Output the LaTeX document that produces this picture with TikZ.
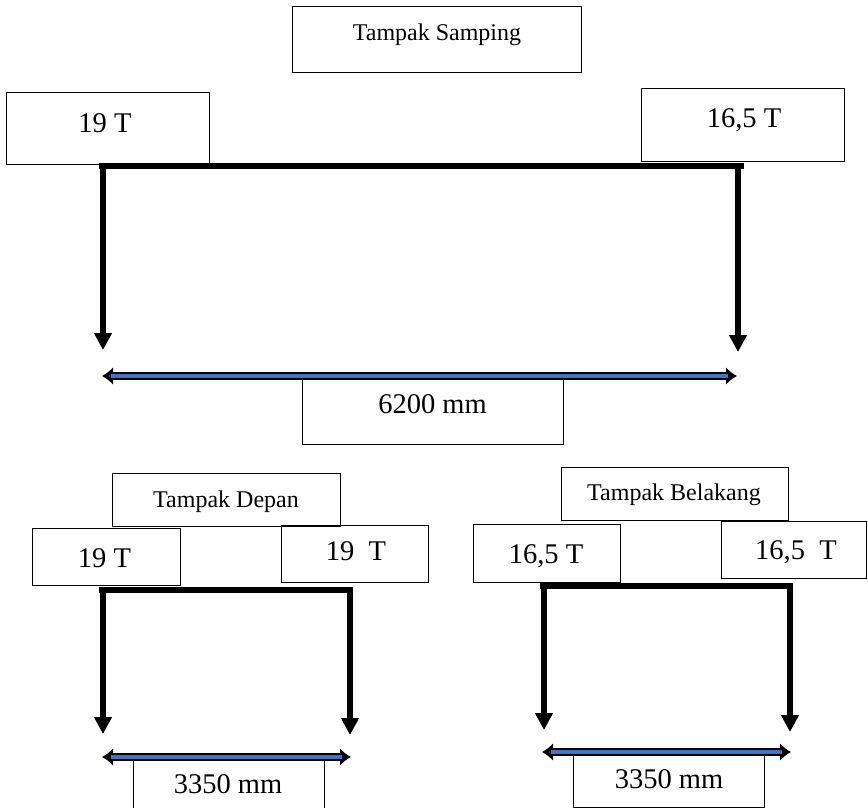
\documentclass[tikz,border=0pt]{standalone}
\usepackage{fontspec}
\setmainfont{Liberation Serif}
\usetikzlibrary{arrows.meta}
\definecolor{dimblue}{HTML}{4472C4}
\newcommand\bigsz{\fontsize{28.5}{30}\selectfont}
\newcommand\smallsz{\fontsize{24}{26}\selectfont}
\tikzset{
  box/.style={draw=black, line width=1pt, inner sep=0pt, outer sep=0pt},
  bigtxt/.style={anchor=base, inner sep=0pt, font=\bigsz},
  smalltxt/.style={anchor=base, inner sep=0pt, font=\smallsz},
  beam/.style={line width=6pt, black},
  load/.style={line width=6pt, black, -{Triangle[width=17pt,length=17pt]}},
  dimout/.style={line width=7.5pt, black,
    {Latex[width=18pt,length=11pt]}-{Latex[width=18pt,length=11pt]}},
  dimin/.style={line width=3.5pt, dimblue}
}
\begin{document}
\begin{tikzpicture}[x=1pt, y=-1pt]
\useasboundingbox (0,0) rectangle (868,808);
\clip (0,0) rectangle (868,808);

% ---------- side view ----------
\node[box, minimum width=289pt, minimum height=66pt] (sideTitle) at (436.5,40) {};
\node[smalltxt] (sideTitleT) at (437,41) {Tampak Samping};
\node[box, minimum width=203pt, minimum height=71pt] (sideA) at (107.5,128.5) {};
\node[bigtxt] (sideAT) at (105,132) {19 T};
\node[box, minimum width=203pt, minimum height=72pt] (sideB) at (742.5,125) {};
\node[bigtxt] (sideBT) at (744,128) {16,5 T};
\node[box, minimum width=261pt, minimum height=68pt] (sideDim) at (432.5,410) {};
\node[bigtxt] (sideDimT) at (432.5,413) {6200 mm};

\coordinate (sBL) at (99,166);
\coordinate (sBR) at (744,166);
\coordinate (sL) at (103,166);
\coordinate (sR) at (738,166);
\coordinate (sLt) at (103,350);
\coordinate (sRt) at (738,352);
\coordinate (sDA) at (102,376);
\coordinate (sDB) at (737,376);

\draw[beam] (sBL) -- (sBR);
\draw[load] (sL) -- (sLt);
\draw[load] (sR) -- (sRt);
\draw[dimout] (sDA) -- (sDB);
\draw[dimin] ([xshift=9pt]sDA) -- ([xshift=-9pt]sDB);

% ---------- front view ----------
\node[box, minimum width=228pt, minimum height=53pt] (frontTitle) at (226,499.5) {};
\node[smalltxt] (frontTitleT) at (226,507) {Tampak Depan};
\node[box, minimum width=148pt, minimum height=57pt] (frontA) at (106,556.5) {};
\node[bigtxt] (frontAT) at (104.5,567) {19 T};
\node[box, minimum width=147pt, minimum height=57pt] (frontB) at (354.5,553.5) {};
\node[bigtxt] (frontBT) at (356,560) {19\ \ T};
\node[box, minimum width=191pt, minimum height=73pt] (frontDim) at (228.5,793.5) {};
\node[bigtxt] (frontDimT) at (228,793) {3350 mm};

\coordinate (fBL) at (99,590);
\coordinate (fBR) at (353,590);
\coordinate (fL) at (103,590);
\coordinate (fR) at (350,590);
\coordinate (fLt) at (103,734);
\coordinate (fRt) at (350,735);
\coordinate (fDA) at (102,757);
\coordinate (fDB) at (351,757);

\draw[beam] (fBL) -- (fBR);
\draw[load] (fL) -- (fLt);
\draw[load] (fR) -- (fRt);
\draw[dimout] (fDA) -- (fDB);
\draw[dimin] ([xshift=9pt]fDA) -- ([xshift=-9pt]fDB);

% ---------- rear view ----------
\node[box, minimum width=227pt, minimum height=53pt] (rearTitle) at (674.5,493.5) {};
\node[smalltxt] (rearTitleT) at (674,500) {Tampak Belakang};
\node[box, minimum width=147pt, minimum height=58pt] (rearA) at (546.5,553) {};
\node[bigtxt] (rearAT) at (546,563) {16,5 T};
\node[box, minimum width=145pt, minimum height=57pt] (rearB) at (793.5,549.5) {};
\node[bigtxt] (rearBT) at (796,559) {16,5\ \ T};
\node[box, minimum width=191pt, minimum height=55pt] (rearDim) at (668.5,779.5) {};
\node[bigtxt] (rearDimT) at (669,788) {3350 mm};

\coordinate (rBL) at (540,586);
\coordinate (rBR) at (793,586);
\coordinate (rL) at (544,586);
\coordinate (rR) at (790,586);
\coordinate (rLt) at (544,730);
\coordinate (rRt) at (790,732);
\coordinate (rDA) at (542,752);
\coordinate (rDB) at (791,752);

\draw[beam] (rBL) -- (rBR);
\draw[load] (rL) -- (rLt);
\draw[load] (rR) -- (rRt);
\draw[dimout] (rDA) -- (rDB);
\draw[dimin] ([xshift=9pt]rDA) -- ([xshift=-9pt]rDB);
\end{tikzpicture}
\end{document}
